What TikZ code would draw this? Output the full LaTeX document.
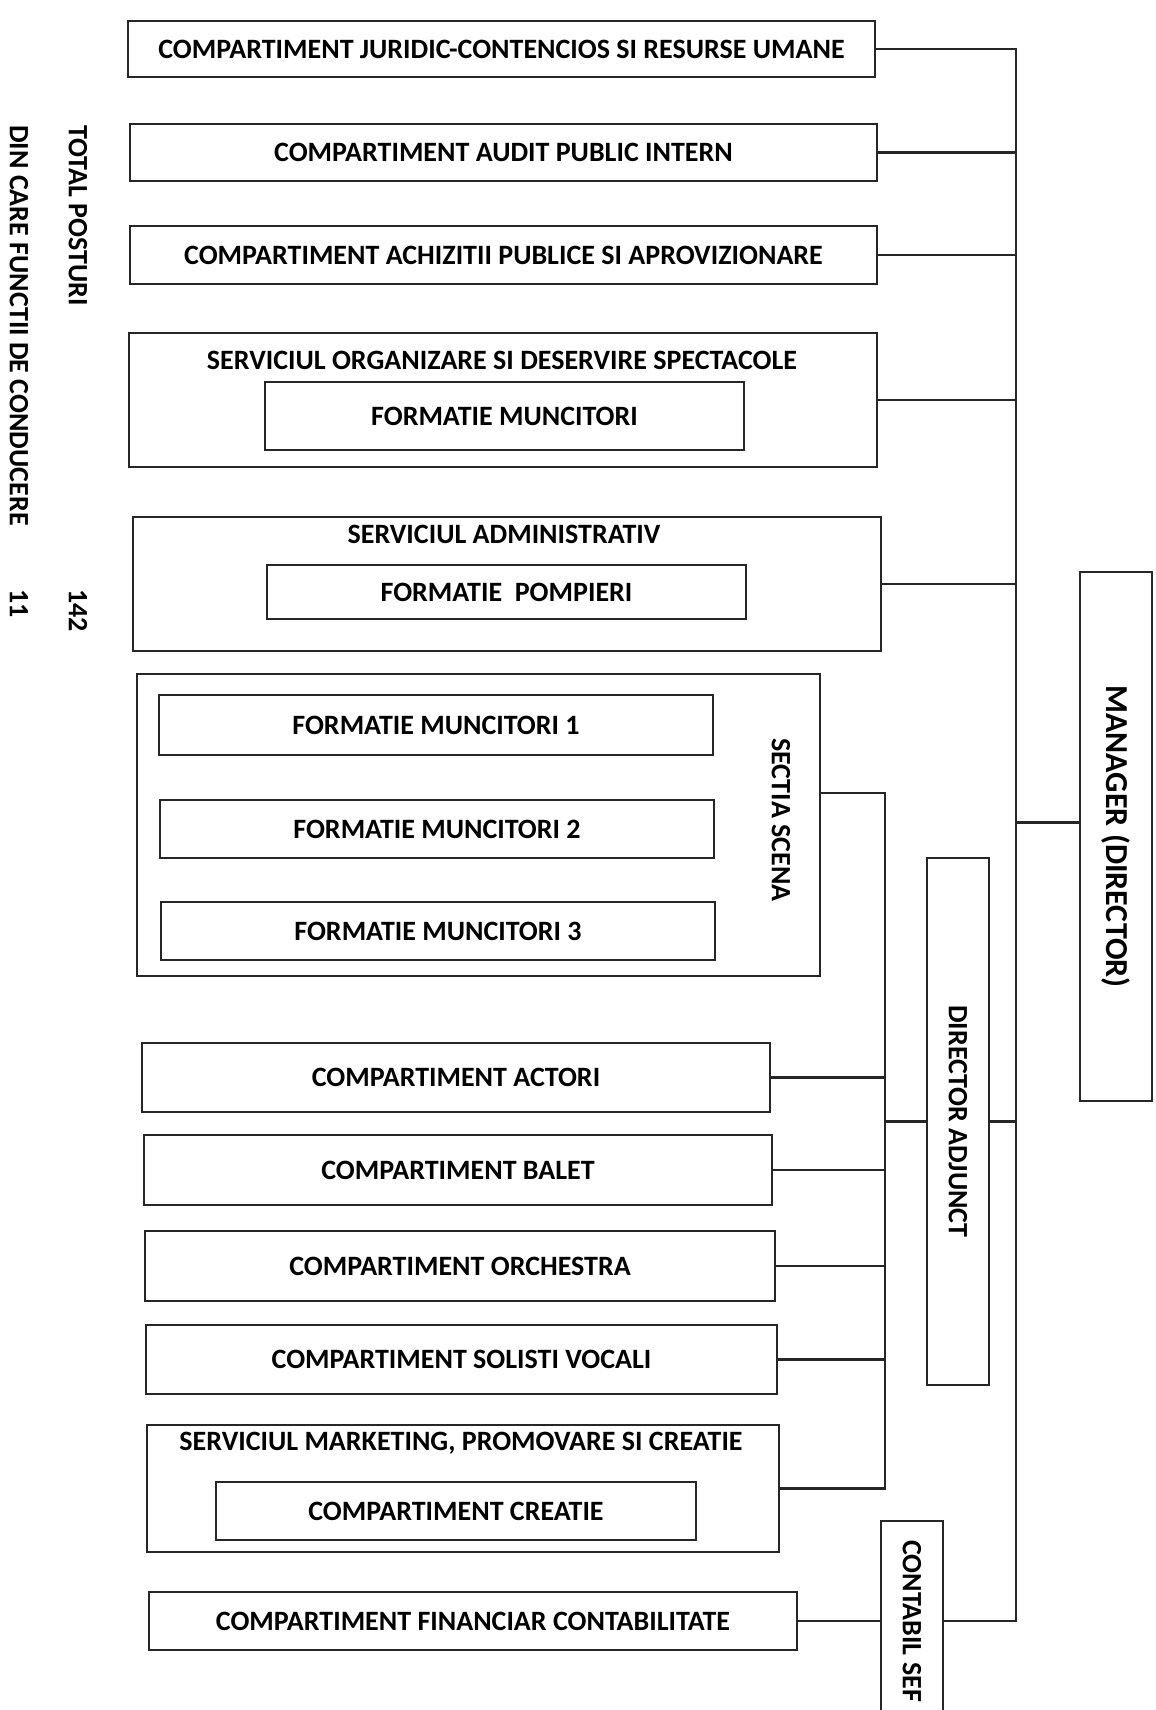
\documentclass[tikz,border=0pt]{standalone}
\usepackage{fontspec}
\setmainfont{Carlito}
\usetikzlibrary{positioning}

\begin{document}
\begin{tikzpicture}[x=1pt,y=-1pt,
  unit/.style={draw=black!85,line width=2.2pt,inner sep=0pt,font=\bfseries\fontsize{28}{32}\selectfont},
  lbl/.style={inner sep=0pt,font=\bfseries\fontsize{28}{32}\selectfont},
  side/.style={lbl,rotate=-90,anchor=west},
  link/.style={draw=black!85,line width=2.2pt}]
\useasboundingbox (0,0) rectangle (1156,1710);
% left totals
\node[side] (tot) at (78,125) {TOTAL POSTURI};
\node[side] (totn) at (78,589) {142};
\node[side] (cond) at (19,125) {DIN CARE FUNCTII DE CONDUCERE};
\node[side] (condn) at (19,589) {11};
% compartments under the manager
\node[unit,minimum width=747,minimum height=56] (jur) at (501.5,49) {COMPARTIMENT JURIDIC-CONTENCIOS SI RESURSE UMANE};
\node[unit,minimum width=747,minimum height=57] (aud) at (503.5,152.5) {COMPARTIMENT AUDIT PUBLIC INTERN};
\node[unit,minimum width=747,minimum height=58] (ach) at (503.5,255) {COMPARTIMENT ACHIZITII PUBLICE SI APROVIZIONARE};
\node[unit,minimum width=748,minimum height=134] (org) at (503,400) {};
\node[lbl] (orgt) at (502,360) {SERVICIUL ORGANIZARE SI DESERVIRE SPECTACOLE};
\node[unit,minimum width=479,minimum height=68] (orgf) at (504.5,416) {FORMATIE MUNCITORI};
\node[unit,minimum width=748,minimum height=134] (adm) at (507,584) {};
\node[lbl] (admt) at (504,534) {SERVICIUL ADMINISTRATIV};
\node[unit,minimum width=479,minimum height=54] (admf) at (506.5,592) {FORMATIE\ \ POMPIERI};
% sectia scena
\node[unit,minimum width=683,minimum height=302] (sec) at (478.5,825) {};
\node[lbl,rotate=-90] (secl) at (781,820) {SECTIA SCENA};
\node[unit,minimum width=554,minimum height=60] (fm1) at (436,725) {FORMATIE MUNCITORI 1};
\node[unit,minimum width=554,minimum height=58] (fm2) at (437,829) {FORMATIE MUNCITORI 2};
\node[unit,minimum width=554,minimum height=58] (fm3) at (438,931) {FORMATIE MUNCITORI 3};
% artistic compartments
\node[unit,minimum width=628,minimum height=69] (act) at (456,1077.5) {COMPARTIMENT ACTORI};
\node[unit,minimum width=628,minimum height=70] (bal) at (458,1170) {COMPARTIMENT BALET};
\node[unit,minimum width=630,minimum height=70] (orc) at (460,1266) {COMPARTIMENT ORCHESTRA};
\node[unit,minimum width=631,minimum height=69] (sol) at (461.5,1359.5) {COMPARTIMENT SOLISTI VOCALI};
\node[unit,minimum width=632,minimum height=127] (mkt) at (463,1488.5) {};
\node[lbl] (mktt) at (461,1443) {SERVICIUL MARKETING, PROMOVARE SI CREATIE};
\node[unit,minimum width=480,minimum height=58] (mktf) at (456,1511) {COMPARTIMENT CREATIE};
\node[unit,minimum width=648,minimum height=58] (fin) at (473,1621) {COMPARTIMENT FINANCIAR CONTABILITATE};
% leaders
\node[unit,minimum width=62,minimum height=200] (csef) at (912,1621) {\rotatebox{-90}{CONTABIL SEF}};
\node[unit,minimum width=62,minimum height=527] (da) at (958,1121.5) {\rotatebox{-90}{DIRECTOR ADJUNCT}};
\node[unit,minimum width=72,minimum height=529,font=\bfseries\fontsize{32}{36}\selectfont] (mgr) at (1116,836.5) {\rotatebox{-90}{MANAGER (DIRECTOR)}};
% trunks
\coordinate (trunk) at (1016,0);
\coordinate (adj) at (885,0);
\draw[link] (jur.east) -- (jur.east -| trunk) -- (csef.east -| trunk) -- (csef.east);
\foreach \n in {aud,ach,org,adm}
  \draw[link] (\n.east) -- (\n.east -| trunk);
\draw[link] ([yshift=14pt]mgr.west) -- ([yshift=14pt]mgr.west -| trunk);
\draw[link] (da.east) -- (da.east -| trunk);
\draw[link] ([yshift=32pt]sec.east) -- ([yshift=32pt]sec.east -| adj) -- (mkt.east -| adj) -- (mkt.east);
\foreach \n in {act,bal,orc,sol}
  \draw[link] (\n.east) -- (\n.east -| adj);
\draw[link] (da.west) -- (da.west -| adj);
\draw[link] (fin.east) -- (csef.west |- fin.east);
\end{tikzpicture}
\end{document}
